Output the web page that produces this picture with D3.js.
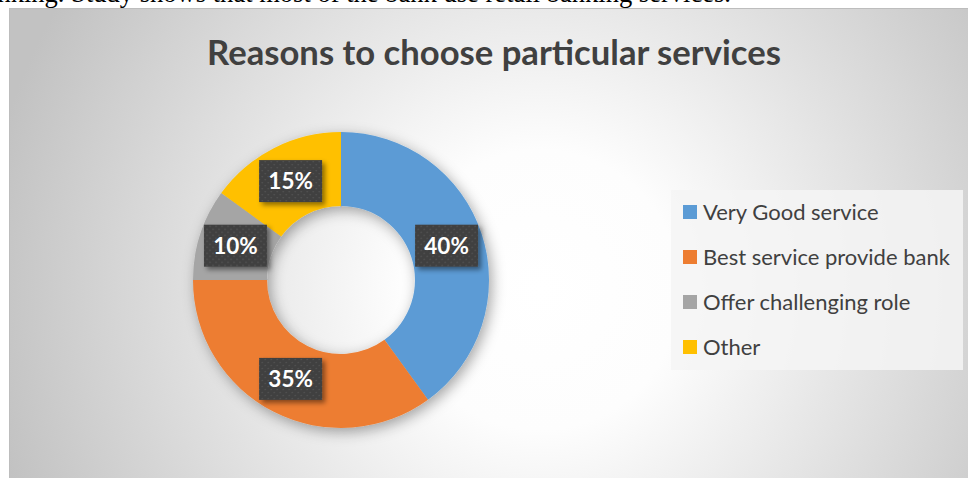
<!DOCTYPE html>
<meta charset="utf-8">
<style>
  body { margin: 0; background: #fff; }
  svg { display: block; }
  .body-text { font-family: "Liberation Serif", "Times New Roman", serif; fill: #000; }
  .title { font-family: Lato, "Open Sans", sans-serif; font-weight: bold; fill: #404040; }
  .legend text { font-family: Lato, "Open Sans", sans-serif; fill: #404040; }
  .lbl { font-family: Lato, "Open Sans", sans-serif; font-weight: bold; fill: #fff; }
</style>
<body>
<svg width="968" height="478"></svg>

<script src="https://cdn.jsdelivr.net/npm/d3@7"></script>
<script>

// chart data
var categories = ["Very Good service", "Best service provide bank", "Offer challenging role", "Other"];
var values = [40, 35, 10, 15];
var colors = ["#5B9BD5", "#ED7D31", "#A5A5A5", "#FFC000"];
var title = "Reasons to choose particular services";
var bodyLine = "nking. Study shows that most of the bank use retail banking services.";

var svg = d3.select("svg");
var defs = svg.append("defs");

// radial background of the chart area
var grad = defs.append("radialGradient")
    .attr("id", "bg")
    .attr("gradientUnits", "userSpaceOnUse")
    .attr("cx", 540).attr("cy", 290).attr("r", 560);
grad.append("stop").attr("offset", 0).attr("stop-color", "#ffffff");
grad.append("stop").attr("offset", 0.25).attr("stop-color", "#fdfdfd");
grad.append("stop").attr("offset", 1).attr("stop-color", "#c2c2c2");

// soft shadow for the ring
var sh = defs.append("filter").attr("id", "ringShadow")
    .attr("x", "-30%").attr("y", "-30%").attr("width", "160%").attr("height", "160%");
sh.append("feDropShadow").attr("dx", 3).attr("dy", 4).attr("stdDeviation", 7)
    .attr("flood-color", "#000").attr("flood-opacity", 0.35);

// shadow for the label boxes
var ls = defs.append("filter").attr("id", "lblShadow")
    .attr("x", "-30%").attr("y", "-30%").attr("width", "170%").attr("height", "170%");
ls.append("feDropShadow").attr("dx", 3).attr("dy", 3).attr("stdDeviation", 2.5)
    .attr("flood-color", "#000").attr("flood-opacity", 0.45);

// dotted fill of the label boxes
var pat = defs.append("pattern").attr("id", "dots")
    .attr("patternUnits", "userSpaceOnUse").attr("width", 6).attr("height", 6);
pat.append("rect").attr("width", 6).attr("height", 6).attr("fill", "#404040");
pat.append("rect").attr("x", 1).attr("y", 1).attr("width", 1.2).attr("height", 1.2).attr("fill", "#5a5a5a");
pat.append("rect").attr("x", 4).attr("y", 4).attr("width", 1.2).attr("height", 1.2).attr("fill", "#5a5a5a");

// document text cut off above the chart (fitted so it ends near x=731)
var bt = svg.append("text")
    .attr("class", "body-text")
    .attr("x", 731).attr("y", 2)
    .attr("text-anchor", "end")
    .style("font-size", "21px")
    .text(bodyLine);
var bw = bt.node().getComputedTextLength();
bt.style("font-size", (21 * 734 / bw) + "px");

// chart area
svg.append("rect")
    .attr("x", 9.5).attr("y", 8.5)
    .attr("width", 970).attr("height", 480)
    .attr("fill", "url(#bg)")
    .attr("stroke", "#bdbdbd").attr("stroke-width", 1);

// title
var t = svg.append("text")
    .attr("class", "title")
    .attr("x", 494).attr("y", 65)
    .attr("text-anchor", "middle")
    .style("font-size", "32px")
    .text(title);
var tw = t.node().getComputedTextLength();
t.style("font-size", (32 * 574 / tw) + "px");

// donut
var cx = 341, cy = 280, outerR = 148, innerR = 74;
var total = d3.sum(values);
var pie = d3.pie().sort(null).value(function(d) { return d; });
var arc = d3.arc().innerRadius(innerR).outerRadius(outerR);
var arcs = pie(values);

var g = svg.append("g").attr("transform", "translate(" + cx + "," + cy + ")");

g.append("g")
    .attr("filter", "url(#ringShadow)")
    .selectAll("path")
    .data(arcs)
    .enter().append("path")
    .attr("d", arc)
    .attr("fill", function(d, i) { return colors[i]; });

// data labels
var fmt = d3.format(".0%");
var lab = g.selectAll(".lab")
    .data(arcs)
    .enter().append("g")
    .attr("class", "lab")
    .attr("transform", function(d) { return "translate(" + arc.centroid(d) + ")"; });

lab.append("rect")
    .attr("x", -31.5).attr("y", -21)
    .attr("width", 63).attr("height", 42)
    .attr("fill", "url(#dots)")
    .attr("filter", "url(#lblShadow)");

lab.append("text")
    .attr("class", "lbl")
    .attr("text-anchor", "middle")
    .attr("dy", "0.36em")
    .style("font-size", "22.5px")
    .text(function(d) { return fmt(d.data / total); });

// legend
var legend = svg.append("g").attr("class", "legend");
legend.append("rect")
    .attr("x", 671).attr("y", 190)
    .attr("width", 292).attr("height", 180)
    .attr("fill", "#f4f4f4").attr("fill-opacity", 0.85);

var rowY = d3.scalePoint().domain(categories).range([212, 347]);

var item = legend.selectAll(".item")
    .data(categories)
    .enter().append("g")
    .attr("class", "item")
    .attr("transform", function(d) { return "translate(683," + rowY(d) + ")"; });

item.append("rect")
    .attr("x", 0).attr("y", -7)
    .attr("width", 14).attr("height", 14)
    .attr("fill", function(d, i) { return colors[i]; });

var lt = item.append("text")
    .attr("x", 20).attr("dy", "0.35em")
    .style("font-size", "20px")
    .text(function(d) { return d; });

// fit legend text to the widest entry (about 247px)
var widest = d3.max(lt.nodes(), function(n) { return n.getComputedTextLength(); });
lt.style("font-size", (20 * 247 / widest) + "px");

</script>
</body>
